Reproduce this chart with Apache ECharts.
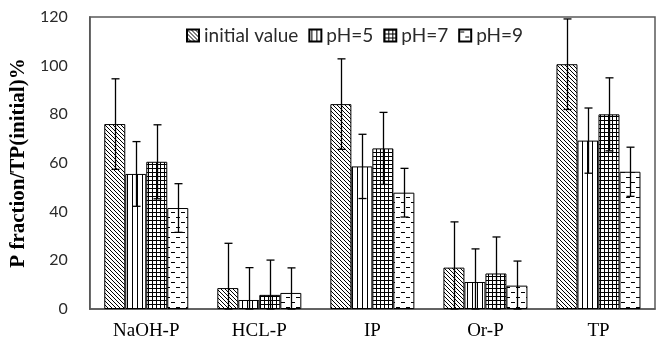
<!DOCTYPE html>
<html>
<head>
<meta charset="utf-8">
<script src="https://cdn.jsdelivr.net/npm/echarts@6/dist/echarts.min.js"></script>
<style>html,body{margin:0;padding:0;background:#fff;}#c{width:660px;height:347px;}</style>
</head>
<body>
<div id="c"></div>
<script>
const categories = ['NaOH-P', 'HCL-P', 'IP', 'Or-P', 'TP'];
const seriesNames = ['initial value', 'pH=5', 'pH=7', 'pH=9'];
const initialValue = [76, 8.6, 84.2, 17, 100.6];
const ph5 = [55.5, 3.7, 58.6, 11.1, 69.2];
const ph7 = [60.5, 5.8, 66, 14.6, 80];
const ph9 = [41.5, 6.6, 47.8, 9.6, 56.4];
const errInitial = [18.6, 18.4, 18.6, 18.8, 18.6];
const errPh5 = [13.3, 13.3, 13.2, 13.6, 13.4];
const errPh7 = [15.2, 14.3, 14.8, 15, 15];
const errPh9 = [10, 10.3, 10, 10.1, 10.1];
const yTicks = [0, 20, 40, 60, 80, 100, 120];

function makePattern(kind) {
  const c = document.createElement('canvas');
  const ctx = c.getContext('2d');
  ctx.strokeStyle = '#000';
  ctx.lineWidth = 1;
  if (kind === 'diag') {
    c.width = 4; c.height = 4;
    ctx.fillStyle = '#fff'; ctx.fillRect(0, 0, 4, 4);
    ctx.beginPath();
    ctx.moveTo(-1, -1); ctx.lineTo(5, 5);
    ctx.moveTo(-1, 3); ctx.lineTo(1, 5);
    ctx.moveTo(3, -1); ctx.lineTo(5, 1);
    ctx.stroke();
  } else if (kind === 'vert') {
    c.width = 5; c.height = 4;
    ctx.fillStyle = '#fff'; ctx.fillRect(0, 0, 5, 4);
    ctx.fillStyle = '#000'; ctx.fillRect(2, 0, 1, 4);
  } else if (kind === 'grid') {
    c.width = 4; c.height = 4;
    ctx.fillStyle = '#fff'; ctx.fillRect(0, 0, 4, 4);
    ctx.fillStyle = '#000';
    ctx.fillRect(0, 0, 4, 1);
    ctx.fillRect(0, 0, 1, 4);
  } else {
    c.width = 10; c.height = 10;
    ctx.fillStyle = '#fff'; ctx.fillRect(0, 0, 10, 10);
    ctx.fillStyle = '#000';
    ctx.fillRect(1, 2, 4, 1);
    ctx.fillRect(6, 7, 4, 1);
  }
  return { image: c, repeat: 'repeat' };
}

const patterns = [makePattern('diag'), makePattern('vert'), makePattern('grid'), makePattern('dash')];
const values = [initialValue, ph5, ph7, ph9];
const errors = [errInitial, errPh5, errPh7, errPh9];
const BAR_W = 21;

const barSeries = seriesNames.map((name, i) => ({
  name: name,
  type: 'bar',
  data: values[i],
  barWidth: BAR_W,
  barGap: '0%',
  itemStyle: { color: patterns[i], borderColor: '#000', borderWidth: 1 },
  emphasis: { disabled: true }
}));

const errSeries = seriesNames.map((name, i) => ({
  name: name + ' err',
  type: 'custom',
  z: 5,
  data: values[i].map((v, k) => [k, v, errors[i][k]]),
  renderItem: function (params, api) {
    const k = api.value(0), v = api.value(1), e = api.value(2);
    const off = (i - 1.5) * BAR_W;
    const top = api.coord([k, v + e]);
    const bot = api.coord([k, Math.max(0, v - e)]);
    const x = Math.round(top[0] + off) + 0.5;
    const cap = 4;
    const st = { stroke: '#000', lineWidth: 1.3 };
    return {
      type: 'group',
      children: [
        { type: 'line', shape: { x1: x, y1: top[1], x2: x, y2: bot[1] }, style: st },
        { type: 'line', shape: { x1: x - cap, y1: top[1], x2: x + cap, y2: top[1] }, style: st },
        { type: 'line', shape: { x1: x - cap, y1: bot[1], x2: x + cap, y2: bot[1] }, style: st }
      ]
    };
  }
}));

const chart = echarts.init(document.getElementById('c'), null, { renderer: 'canvas' });
chart.setOption({
  animation: false,
  backgroundColor: '#fff',
  grid: { left: 83, right: 5, top: 17, bottom: 38, show: true, borderColor: '#595959', borderWidth: 1.5, backgroundColor: 'transparent' },
  legend: {
    data: seriesNames,
    top: 21,
    left: 181,
    icon: 'rect',
    itemWidth: 12,
    itemHeight: 12,
    itemGap: 10,
    selectedMode: false,
    textStyle: { fontFamily: 'Lato', fontSize: 19, color: '#2a2a2a', padding: [0, 0, 0, 0] }
  },
  xAxis: {
    type: 'category',
    data: categories,
    axisLine: { lineStyle: { color: '#595959', width: 1.5 } },
    axisTick: { show: false },
    axisLabel: { fontFamily: 'Liberation Serif', fontSize: 19, color: '#000', margin: 13 }
  },
  yAxis: {
    type: 'value',
    min: yTicks[0],
    max: yTicks[yTicks.length - 1],
    interval: yTicks[1] - yTicks[0],
    name: 'P fraction/TP(initial)%',
    nameLocation: 'middle',
    nameGap: 58,
    nameTextStyle: { fontFamily: 'Liberation Serif', fontWeight: 'bold', fontSize: 21, color: '#000' },
    axisLine: { show: true, lineStyle: { color: '#595959', width: 1.5 } },
    axisTick: { show: false },
    splitLine: { show: false },
    axisLabel: { fontFamily: 'Lato', fontSize: 16, color: '#2a2a2a', margin: 22 }
  },
  series: barSeries.concat(errSeries)
});
</script>
</body>
</html>
